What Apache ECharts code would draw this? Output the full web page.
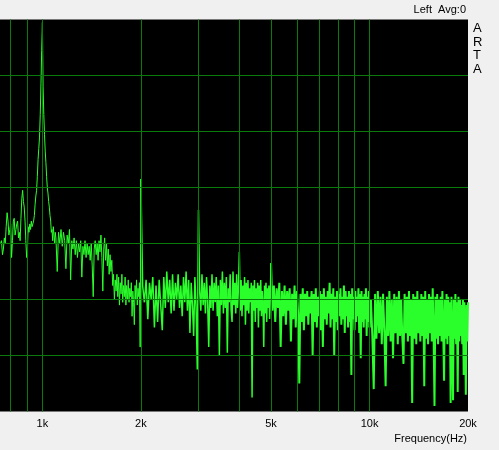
<!DOCTYPE html>
<html>
<head>
<meta charset="utf-8">
<script src="https://cdn.jsdelivr.net/npm/echarts@6/dist/echarts.min.js"></script>
<style>
html,body{margin:0;padding:0;background:#f0f0f0;}
#c{width:499px;height:450px;}
</style>
</head>
<body>
<div id="c"></div>
<script>
// Spectrum data: [frequency Hz, level dB]
const lowBand = [[745,-80],[750,-79],[755,-84],[760,-82],[765,-78],[770,-80],[775,-74],[780,-69],[785,-72],[790,-77],[795,-75],[800,-73],[805,-85],[810,-79],[815,-72],[820,-71],[825,-77],[830,-75],[835,-73],[840,-72],[845,-78],[850,-76],[855,-79],[860,-71],[865,-64],[870,-61],[875,-65],[880,-67],[885,-72],[890,-79],[895,-85],[900,-82],[905,-74],[910,-76],[915,-73],[920,-75],[925,-72],[930,-74],[935,-73]];

const peak1k = [[940,-72],[945,-70],[950,-66],[955,-63],[960,-61],[965,-56],[970,-50],[975,-46],[980,-42],[985,-34],[990,-23],[995,-11],[1000,-1],[1005,-24],[1010,-34],[1015,-41],[1020,-47],[1025,-51],[1030,-56],[1035,-60],[1040,-62],[1045,-65],[1050,-67],[1055,-70],[1060,-72],[1065,-76],[1070,-75],[1075,-79],[1080,-74],[1085,-77],[1090,-80],[1095,-76],[1100,-78]];

const midBand = [[1110,-90],[1120,-76],[1130,-80],[1140,-75],[1150,-81],[1160,-76],[1170,-79],[1180,-89],[1190,-77],[1200,-80],[1210,-75],[1220,-93],[1230,-79],[1240,-82],[1250,-78],[1260,-84],[1270,-79],[1280,-85],[1290,-80],[1300,-83],[1310,-79],[1320,-92],[1330,-81],[1340,-84],[1350,-79],[1360,-85],[1370,-80],[1380,-84],[1390,-81],[1400,-86],[1410,-80],[1420,-88],[1430,-99],[1440,-82],[1450,-79],[1460,-84],[1470,-80],[1480,-86],[1490,-79],[1500,-83],[1510,-77],[1520,-85],[1530,-97],[1540,-82],[1550,-78],[1560,-86],[1570,-80],[1580,-88],[1590,-82],[1600,-91],[1610,-84],[1620,-90],[1630,-86],[1640,-95],[1650,-91],[1660,-100],[1670,-93],[1680,-97],[1690,-91],[1700,-99],[1710,-92],[1720,-102],[1730,-94],[1740,-98],[1750,-91],[1760,-101],[1770,-95],[1780,-99],[1790,-92],[1800,-102],[1810,-95],[1820,-100],[1830,-93],[1840,-101],[1850,-96],[1860,-99],[1870,-94],[1880,-106],[1890,-97],[1900,-101],[1910,-109],[1920,-95],[1930,-100],[1940,-93],[1950,-102],[1960,-96],[1970,-99],[1980,-94],[1990,-117],[2000,-57]];

const band2to5k = [[2000,-57],[2025,-95],[2050,-101],[2075,-93],[2100,-107],[2125,-94],[2150,-100],[2175,-92],[2200,-110],[2225,-95],[2250,-108],[2275,-93],[2300,-102],[2325,-111],[2350,-92],[2375,-103],[2400,-90],[2425,-101],[2450,-93],[2475,-105],[2500,-91],[2525,-104],[2550,-94],[2575,-100],[2600,-91],[2625,-103],[2650,-95],[2675,-106],[2700,-92],[2725,-101],[2750,-90],[2775,-104],[2800,-93],[2825,-112],[2850,-94],[2875,-102],[2900,-113],[2925,-92],[2950,-103],[2975,-125],[3000,-68],[3025,-97],[3050,-104],[3075,-91],[3100,-102],[3125,-94],[3150,-105],[3175,-92],[3200,-101],[3225,-117],[3250,-95],[3275,-103],[3300,-91],[3325,-104],[3350,-94],[3375,-101],[3400,-92],[3425,-106],[3450,-95],[3475,-120],[3500,-93],[3525,-102],[3550,-90],[3575,-105],[3600,-94],[3625,-103],[3650,-92],[3675,-119],[3700,-96],[3725,-101],[3750,-91],[3775,-104],[3800,-108],[3825,-90],[3850,-102],[3875,-94],[3900,-105],[3925,-91],[3950,-103],[3975,-96],[4000,-83],[4025,-104],[4050,-93],[4075,-106],[4100,-95],[4125,-102],[4150,-92],[4175,-109],[4200,-94],[4225,-104],[4250,-93],[4275,-105],[4300,-96],[4325,-101],[4350,-94],[4375,-135],[4400,-95],[4425,-104],[4450,-93],[4475,-108],[4500,-96],[4525,-103],[4550,-94],[4575,-110],[4600,-95],[4625,-104],[4650,-93],[4675,-106],[4700,-97],[4725,-102],[4750,-117],[4775,-95],[4800,-105],[4825,-94],[4850,-108],[4875,-96],[4900,-103],[4925,-95],[4950,-107],[4975,-98],[5000,-87]];

const band5to10k = [[5000,-87],[5050,-104],[5100,-95],[5150,-108],[5200,-96],[5250,-103],[5300,-94],[5350,-117],[5400,-97],[5450,-106],[5500,-95],[5550,-109],[5600,-97],[5650,-104],[5700,-96],[5750,-115],[5800,-98],[5850,-107],[5900,-95],[5950,-110],[6000,-97],[6050,-105],[6100,-130],[6150,-98],[6200,-108],[6250,-96],[6300,-111],[6350,-98],[6400,-106],[6450,-97],[6500,-109],[6550,-99],[6600,-105],[6650,-97],[6700,-120],[6750,-98],[6800,-108],[6850,-96],[6900,-110],[6950,-99],[7000,-106],[7050,-97],[7100,-111],[7150,-98],[7200,-117],[7250,-96],[7300,-107],[7350,-99],[7400,-109],[7450,-97],[7500,-105],[7550,-94],[7600,-110],[7650,-98],[7700,-107],[7750,-96],[7800,-120],[7850,-99],[7900,-108],[7950,-97],[8000,-111],[8050,-98],[8100,-106],[8150,-96],[8200,-109],[8250,-99],[8300,-107],[8350,-95],[8400,-112],[8450,-97],[8500,-106],[8550,-99],[8600,-110],[8650,-97],[8700,-108],[8750,-98],[8800,-127],[8850,-96],[8900,-107],[8950,-99],[9000,-111],[9050,-97],[9100,-108],[9150,-99],[9200,-106],[9250,-96],[9300,-112],[9350,-98],[9400,-121],[9450,-97],[9500,-108],[9550,-99],[9600,-110],[9650,-98],[9700,-107],[9750,-96],[9800,-113],[9850,-99],[9900,-108],[9950,-97],[10000,-110]];

const band10to20k = [[10000,-110],[10100,-100],[10200,-113],[10300,-132],[10400,-98],[10500,-114],[10600,-97],[10700,-112],[10800,-99],[10900,-116],[11000,-98],[11100,-111],[11200,-131],[11300,-99],[11400,-113],[11500,-97],[11600,-115],[11700,-100],[11800,-121],[11900,-98],[12000,-112],[12100,-99],[12200,-116],[12300,-97],[12400,-113],[12500,-100],[12600,-114],[12700,-123],[12800,-98],[12900,-112],[13000,-99],[13100,-115],[13200,-97],[13300,-113],[13400,-100],[13500,-137],[13600,-98],[13700,-114],[13800,-99],[13900,-116],[14000,-97],[14100,-112],[14200,-100],[14300,-115],[14400,-98],[14500,-113],[14600,-99],[14700,-131],[14800,-97],[14900,-114],[15000,-100],[15100,-116],[15200,-98],[15300,-112],[15400,-99],[15500,-115],[15600,-96],[15700,-113],[15800,-138],[15900,-99],[16000,-114],[16100,-98],[16200,-116],[16300,-100],[16400,-113],[16500,-99],[16600,-115],[16700,-97],[16800,-112],[16900,-129],[17000,-100],[17100,-114],[17200,-98],[17300,-116],[17400,-99],[17500,-113],[17600,-101],[17700,-137],[17800,-99],[17900,-115],[18000,-136],[18100,-100],[18200,-114],[18300,-98],[18400,-116],[18500,-101],[18600,-133],[18700,-99],[18800,-115],[18900,-100],[19000,-113],[19100,-102],[19200,-116],[19300,-100],[19400,-127],[19500,-101],[19600,-114],[19700,-134],[19800,-102],[19900,-115],[20000,-101]];

// Axis / grid definitions
const freqMin = 742, freqMax = 20000;
const levelMin = -140, levelMax = 0;
const gridFreqs = [800, 900, 1000, 2000, 3000, 4000, 5000, 6000, 7000, 8000, 9000, 10000, 20000];
const gridLevels = [-120, -100, -80, -60, -40, -20];
const tickLabels = {1000: '1k', 2000: '2k', 5000: '5k', 10000: '10k', 20000: '20k'};

const lowSpectrum = [].concat(lowBand, peak1k, midBand);

const FONT = "'Liberation Sans', Arial, sans-serif";
const GRID_COLOR = '#0a7a0a';
const TRACE = '#2bff2b';

function trace(data, w) {
  return {
    type: 'line', data: data, z: 3, clip: true, silent: true,
    showSymbol: false, symbol: 'none', sampling: null,
    lineStyle: {color: TRACE, width: w}, itemStyle: {color: TRACE},
    emphasis: {disabled: true}
  };
}

const chart = echarts.init(document.getElementById('c'), null, {renderer: 'canvas'});
chart.setOption({
  animation: false,
  backgroundColor: '#f0f0f0',
  grid: {left: 0, top: 19.5, width: 468, height: 392, show: true, backgroundColor: '#000000', borderWidth: 0, containLabel: false},
  xAxis: {
    type: 'log', logBase: 10, min: freqMin, max: freqMax,
    axisLine: {show: false}, axisTick: {show: false}, axisLabel: {show: false},
    splitLine: {show: false}, minorSplitLine: {show: false}
  },
  yAxis: {
    type: 'value', min: levelMin, max: levelMax,
    axisLine: {show: false}, axisTick: {show: false}, axisLabel: {show: false},
    splitLine: {show: false}
  },
  graphic: [
    {type: 'text', right: 33, top: 4, style: {text: 'Left  Avg:0', font: '11px ' + FONT, fill: '#000'}},
    {type: 'text', left: 473, top: 22, style: {text: 'A\nR\nT\nA', font: '13px ' + FONT, fill: '#000', lineHeight: 13.5}},
    {type: 'text', right: 32, top: 433, style: {text: 'Frequency(Hz)', font: '11px ' + FONT, fill: '#000'}}
  ],
  series: [
    {
      type: 'line', data: [], z: 1, silent: true,
      itemStyle: {color: GRID_COLOR},
      markLine: {
        silent: true, symbol: 'none', animation: false,
        lineStyle: {color: GRID_COLOR, width: 1, type: 'solid', opacity: 1},
        label: {
          show: true, position: 'start', distance: 7, color: '#000', fontSize: 11, fontFamily: FONT,
          formatter: p => tickLabels[p.value] || ''
        },
        emphasis: {disabled: true},
        data: gridFreqs.map(f => ({
          xAxis: f,
          lineStyle: {color: f === freqMax ? 'rgba(0,0,0,0)' : GRID_COLOR}
        })).concat(gridLevels.map(v => ({
          yAxis: v,
          label: {show: false},
          lineStyle: {color: GRID_COLOR}
        })))
      }
    },
    trace(lowSpectrum, 1),
    trace(band2to5k, 1.5),
    trace(band5to10k, 2),
    trace(band10to20k, 2)
  ]
});
</script>
</body>
</html>
